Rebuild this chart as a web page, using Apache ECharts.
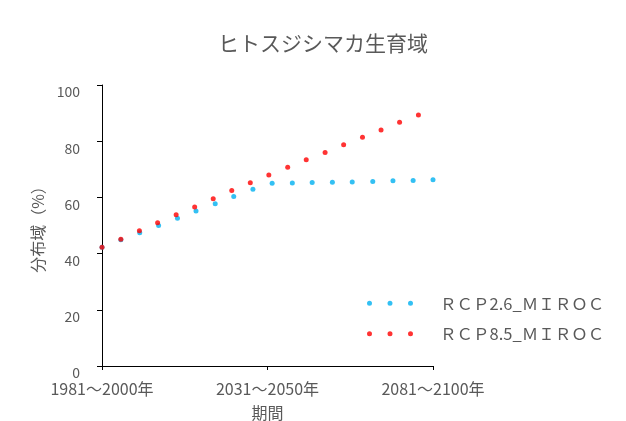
<!DOCTYPE html>
<html>
<head>
<meta charset="utf-8">
<script src="https://cdn.jsdelivr.net/npm/echarts@6/dist/echarts.min.js"></script>
<style>
  html, body { margin: 0; padding: 0; background: #fff; }
  #chart { width: 626px; height: 421px; }
</style>
</head>
<body>
<div id="chart"></div>
<script>
// Period tick labels (x axis measured in years from 1981)
const periodLabels = ['1981～2000年', '2031～2050年', '2081～2100年'];
const seriesNames = ['ＲＣＰ2.6_ＭＩＲＯＣ', 'ＲＣＰ8.5_ＭＩＲＯＣ'];

// RCP2.6 scenario: year offset and habitat share (%)
const rcp26X = [0, 5.7, 11.4, 17.1, 22.8, 28.4, 34.2, 39.8, 45.6, 51.4, 57.5, 63.5, 69.6, 75.6, 81.8, 87.9, 94.0, 100];
const rcp26Y = [42.3, 44.9, 47.4, 50.0, 52.6, 55.2, 57.7, 60.3, 62.9, 65.0, 65.1, 65.3, 65.4, 65.5, 65.7, 65.9, 66.0, 66.3];

// RCP8.5 scenario: year offset and habitat share (%)
const rcp85X = [0, 5.7, 11.3, 16.8, 22.4, 28.0, 33.6, 39.2, 44.8, 50.4, 56.1, 61.7, 67.4, 73.0, 78.7, 84.3, 89.9, 95.6];
const rcp85Y = [42.3, 45.1, 48.1, 51.0, 53.8, 56.6, 59.5, 62.5, 65.2, 68.0, 70.7, 73.4, 76.0, 78.7, 81.4, 84.0, 86.7, 89.3];

const font = '"Noto Sans CJK JP", "Noto Sans", sans-serif';
const grey = '#595959';

function pairs(xs, ys) { return xs.map((x, i) => [x, ys[i]]); }

// three-dot legend swatch
const dotsIcon = 'path://M0,2.5a2.5,2.5 0 1,0 5,0a2.5,2.5 0 1,0 -5,0M20.5,2.5a2.5,2.5 0 1,0 5,0a2.5,2.5 0 1,0 -5,0M41,2.5a2.5,2.5 0 1,0 5,0a2.5,2.5 0 1,0 -5,0';

const chart = echarts.init(document.getElementById('chart'), null, { renderer: 'canvas' });
chart.setOption({
  animation: false,
  backgroundColor: '#fff',
  textStyle: { fontFamily: font },
  title: {
    text: 'ヒトスジシマカ生育域',
    left: 323,
    textAlign: 'center',
    top: 33,
    padding: 0,
    textStyle: { fontFamily: font, fontSize: 21, fontWeight: 'normal', color: grey }
  },
  legend: {
    orient: 'vertical',
    left: 362,
    top: 290,
    itemWidth: 46,
    itemHeight: 5,
    itemGap: 14,
    icon: dotsIcon,
    data: seriesNames,
    textStyle: { fontFamily: font, fontSize: 16.5, color: grey, lineHeight: 16, padding: [0, 0, 0, 22] }
  },
  grid: { left: 102, right: 193, top: 85, bottom: 55, containLabel: false, outerBoundsMode: 'none' },
  xAxis: {
    type: 'value',
    min: 0,
    max: 100,
    interval: 50,
    name: '期間',
    nameLocation: 'middle',
    nameGap: 39,
    nameTextStyle: { fontFamily: font, fontSize: 16, color: grey },
    axisLine: { show: true, lineStyle: { color: '#000', width: 1 } },
    axisTick: { show: true, length: 4, lineStyle: { color: '#000' } },
    splitLine: { show: false },
    axisLabel: {
      margin: 15,
      fontFamily: font,
      fontSize: 16,
      color: grey,
      formatter: v => periodLabels[Math.round(v / 50)] || ''
    }
  },
  yAxis: {
    type: 'value',
    min: 0,
    max: 100,
    interval: 20,
    name: '分布域（%）',
    nameLocation: 'middle',
    nameGap: 50,
    nameTextStyle: { fontFamily: font, fontSize: 16, color: grey },
    axisLine: { show: true, lineStyle: { color: '#000', width: 1 } },
    axisTick: { show: true, length: 5, lineStyle: { color: '#000' } },
    splitLine: { show: false },
    axisLabel: { margin: 22, fontFamily: font, fontSize: 14, color: grey, verticalAlign: 'top' }
  },
  series: [
    {
      name: seriesNames[0],
      type: 'scatter',
      symbol: 'circle',
      symbolSize: 5,
      itemStyle: { color: '#00B0F0' },
      data: pairs(rcp26X, rcp26Y)
    },
    {
      name: seriesNames[1],
      type: 'scatter',
      symbol: 'circle',
      symbolSize: 5,
      itemStyle: { color: '#FF0000' },
      data: pairs(rcp85X, rcp85Y)
    }
  ]
});
</script>
</body>
</html>
